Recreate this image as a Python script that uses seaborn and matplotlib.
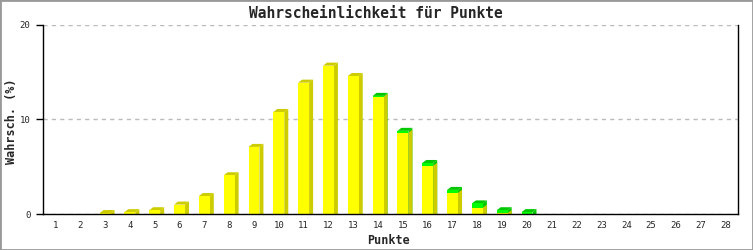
import matplotlib
matplotlib.use("Agg")
import matplotlib.pyplot as plt
import seaborn as sns
import pandas as pd
from matplotlib.patches import Rectangle, Polygon

# ---- data ----
punkte = [str(p) for p in range(1, 29)]
gelb = [0, 0, 0.1, 0.2, 0.4, 1.0, 1.9, 4.1, 7.1, 10.8, 13.9, 15.7, 14.6, 12.4,
        8.6, 5.1, 2.25, 0.67, 0.1, 0, 0, 0, 0, 0, 0, 0, 0, 0]
gruen = [0, 0, 0, 0, 0, 0, 0, 0, 0, 0, 0, 0, 0, 0.1,
         0.2, 0.3, 0.3, 0.45, 0.3, 0.2, 0, 0, 0, 0, 0, 0, 0, 0]
y_ticks = [0, 10, 20]
title = "Wahrscheinlichkeit für Punkte"
xlabel = "Punkte"
ylabel = "Wahrsch. (%)"

sns.set_theme(style="white")
plt.rcParams['font.family'] = ['DejaVu Sans Mono']

W, H = 753, 250
fig = plt.figure(figsize=(W / 100, H / 100), dpi=100)
L, R, T, B = 43, 738, 25, 214
ax = fig.add_axes([L / W, 1 - B / H, (R - L) / W, (B - T) / H])

df = pd.DataFrame({"Punkte": punkte, "gelb": gelb,
                   "gesamt": [a + b for a, b in zip(gelb, gruen)]})

FRONT_Y, SIDE_Y = "#FFFF00", "#CCCC00"
FRONT_G, SIDE_G = "#00FF00", "#00C800"

sns.barplot(data=df, x="Punkte", y="gesamt", order=punkte, color=FRONT_G,
            saturation=1, width=0.44, linewidth=0, ax=ax, zorder=3)
n = len(punkte)
green_patches = list(ax.patches[:n])
sns.barplot(data=df, x="Punkte", y="gelb", order=punkte, color=FRONT_Y,
            saturation=1, width=0.44, linewidth=0, ax=ax, zorder=5)
yellow_patches = list(ax.patches[n:2 * n])

ax.set_xlim(-0.5, n - 0.5)
ax.set_ylim(0, 20)

# 3D depth in data units (4 px right, 3 px up)
dx = 4 * (n) / (R - L)
dy = 3 * 20 / (B - T)

for pg, py, g in zip(green_patches, yellow_patches, gruen):
    x0 = pg.get_x()
    x1 = x0 + pg.get_width()
    h = pg.get_height()
    hy = py.get_height()
    if h <= 0:
        continue
    if g > 0:
        ax.add_patch(Polygon([(x1, 0), (x1 + dx, 0), (x1 + dx, h + dy), (x1, h)],
                             closed=True, facecolor=SIDE_G, linewidth=0, zorder=2))
    ax.add_patch(Polygon([(x0, h), (x0 + dx, h + dy), (x1 + dx, h + dy), (x1, h)],
                         closed=True, facecolor=SIDE_G if g > 0 else SIDE_Y,
                         linewidth=0, zorder=2))
    if hy > 0:
        ax.add_patch(Polygon([(x1, 0), (x1 + dx, 0), (x1 + dx, hy + dy), (x1, hy)],
                             closed=True, facecolor=SIDE_Y, linewidth=0, zorder=4))

ax.set_yticks(y_ticks)
ax.set_yticklabels([str(t) for t in y_ticks])
ax.yaxis.grid(True, linestyle=(0, (3, 3)), color="#bbbbbb", linewidth=1)
ax.set_axisbelow(True)
ax.xaxis.grid(False)
ax.set_xlabel("")
ax.set_ylabel("")

for s in ["left", "bottom", "right"]:
    ax.spines[s].set_visible(True)
    ax.spines[s].set_color("black")
    ax.spines[s].set_linewidth(1)
    ax.spines[s].set_zorder(10)
ax.spines["top"].set_visible(False)

ax.tick_params(axis="y", direction="out", length=5, width=1, color="black",
               labelsize=6.5, pad=4, left=True)
ax.tick_params(axis="x", length=0, labelsize=6.5, pad=5)

fig.text(376 / W, 1 - 13 / H, title, ha="center", va="center",
         fontsize=10.5, fontweight="bold")
fig.text(389 / W, 1 - 240 / H, xlabel, ha="center", va="center",
         fontsize=8.5, fontweight="bold")
fig.text(12 / W, 1 - 121 / H, ylabel, ha="center", va="center",
         rotation=90, fontsize=8.5, fontweight="bold")

fig.patches.append(Rectangle((0, 0), 1, 1, transform=fig.transFigure,
                             fill=False, edgecolor="#999999", linewidth=2))

fig.savefig("out.png", dpi=100)
